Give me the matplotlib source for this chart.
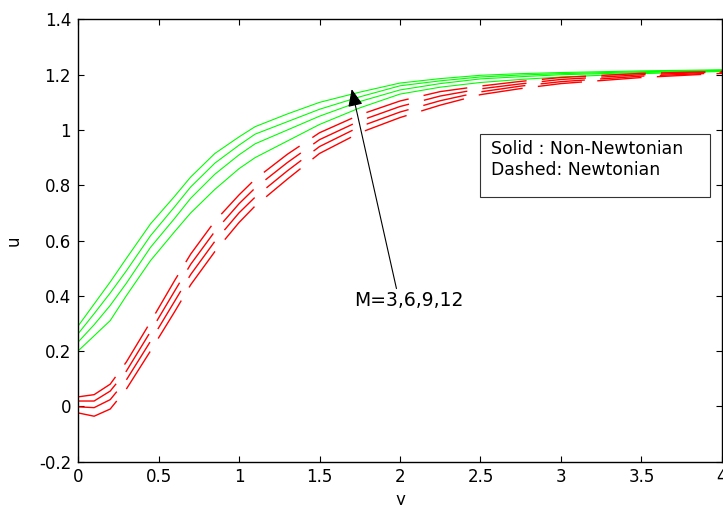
import matplotlib
matplotlib.use("Agg")
import matplotlib.pyplot as plt
from matplotlib.patches import Rectangle

# ---- data ----
y_grid = [0, 0.1, 0.2, 0.3, 0.45, 0.6, 0.7, 0.85, 1.0, 1.1, 1.3, 1.5, 1.75,
          2.0, 2.25, 2.5, 2.75, 3.0, 3.5, 4.0]

# Solid (Non-Newtonian), M = 3, 6, 9, 12
nonnewt_M3 = [0.29, 0.37, 0.45, 0.535, 0.66, 0.76, 0.83, 0.915, 0.975, 1.012,
              1.058, 1.10, 1.137, 1.17, 1.186, 1.198, 1.204, 1.208, 1.214, 1.218]
nonnewt_M6 = [0.262, 0.335, 0.41, 0.49, 0.617, 0.722, 0.794, 0.88, 0.945, 0.985,
              1.03, 1.075, 1.12, 1.16, 1.178, 1.192, 1.199, 1.204, 1.211, 1.216]
nonnewt_M9 = [0.232, 0.295, 0.365, 0.445, 0.575, 0.68, 0.753, 0.84, 0.91, 0.95,
              1.0, 1.05, 1.103, 1.145, 1.168, 1.185, 1.193, 1.20, 1.208, 1.214]
nonnewt_M12 = [0.20, 0.255, 0.31, 0.40, 0.527, 0.632, 0.70, 0.785, 0.86, 0.90,
               0.96, 1.02, 1.08, 1.13, 1.155, 1.172, 1.183, 1.192, 1.204, 1.212]

# Dashed (Newtonian), M = 3, 6, 9, 12
newt_M3 = [0.034, 0.042, 0.080, 0.16, 0.305, 0.455, 0.551, 0.67, 0.765, 0.822,
           0.912, 0.99, 1.055, 1.105, 1.139, 1.159, 1.176, 1.19, 1.205, 1.212]
newt_M6 = [0.019, 0.019, 0.055, 0.127, 0.27, 0.417, 0.514, 0.633, 0.733, 0.79,
           0.882, 0.965, 1.033, 1.085, 1.123, 1.149, 1.167, 1.183, 1.20, 1.21]
newt_M9 = [-0.002, -0.005, 0.024, 0.095, 0.235, 0.38, 0.477, 0.597, 0.70, 0.757,
           0.852, 0.94, 1.012, 1.065, 1.106, 1.138, 1.159, 1.175, 1.195, 1.207]
newt_M12 = [-0.024, -0.036, -0.010, 0.062, 0.20, 0.342, 0.44, 0.56, 0.665, 0.725,
            0.822, 0.915, 0.99, 1.045, 1.09, 1.128, 1.15, 1.168, 1.19, 1.205]

x_ticks = [0, 0.5, 1, 1.5, 2, 2.5, 3, 3.5, 4]
x_ticklabels = ["0", "0.5", "1", "1.5", "2", "2.5", "3", "3.5", "4"]
y_ticks = [-0.2, 0, 0.2, 0.4, 0.6, 0.8, 1.0, 1.2, 1.4]
y_ticklabels = ["-0.2", "0", "0.2", "0.4", "0.6", "0.8", "1", "1.2", "1.4"]

legend_lines = ["Solid : Non-Newtonian", "Dashed: Newtonian"]
annot_text = "M=3,6,9,12"

# ---- figure ----
plt.rcParams['font.family'] = ['DejaVu Sans']
plt.rcParams['axes.unicode_minus'] = False
fig = plt.figure(figsize=(7.23, 5.05), dpi=100)
ax = fig.add_axes([0.1079, 0.0861, 0.8907, 0.8753])

for s in [nonnewt_M3, nonnewt_M6, nonnewt_M9, nonnewt_M12]:
    ax.plot(y_grid, s, color=(0, 1, 0), lw=0.8)
for s in [newt_M3, newt_M6, newt_M9, newt_M12]:
    ax.plot(y_grid, s, color=(1, 0, 0), lw=1.0, linestyle=(0, (32, 11)))

ax.set_xlim(0, 4)
ax.set_ylim(-0.2, 1.4)
ax.set_xticks(x_ticks)
ax.set_xticklabels(x_ticklabels)
ax.set_yticks(y_ticks)
ax.set_yticklabels(y_ticklabels)
ax.tick_params(direction='in', length=4, width=0.8, top=True, right=True,
               labelsize=12, pad=5)
for sp in ax.spines.values():
    sp.set_linewidth(1.0)

ax.set_xlabel("y", fontsize=12, labelpad=3)
ax.set_ylabel("u", fontsize=12, labelpad=12)

# legend-style text box
ax.add_patch(Rectangle((2.497, 0.758), 1.428, 0.229, fill=False,
                       edgecolor='#333333', lw=0.8, zorder=5))
ax.text(2.565, 0.932, legend_lines[0], fontsize=12.4, va='center', ha='left')
ax.text(2.565, 0.856, legend_lines[1], fontsize=12.4, va='center', ha='left')

# arrow annotation
ax.annotate("", xy=(1.70, 1.148), xytext=(1.978, 0.426),
            arrowprops=dict(arrowstyle='-|>,head_length=0.7,head_width=0.3',
                            mutation_scale=15, color='black', lw=0.8,
                            shrinkA=0, shrinkB=0))
ax.text(1.714, 0.383, annot_text, fontsize=13.5, va='center', ha='left')

fig.savefig("out.png", dpi=100)
